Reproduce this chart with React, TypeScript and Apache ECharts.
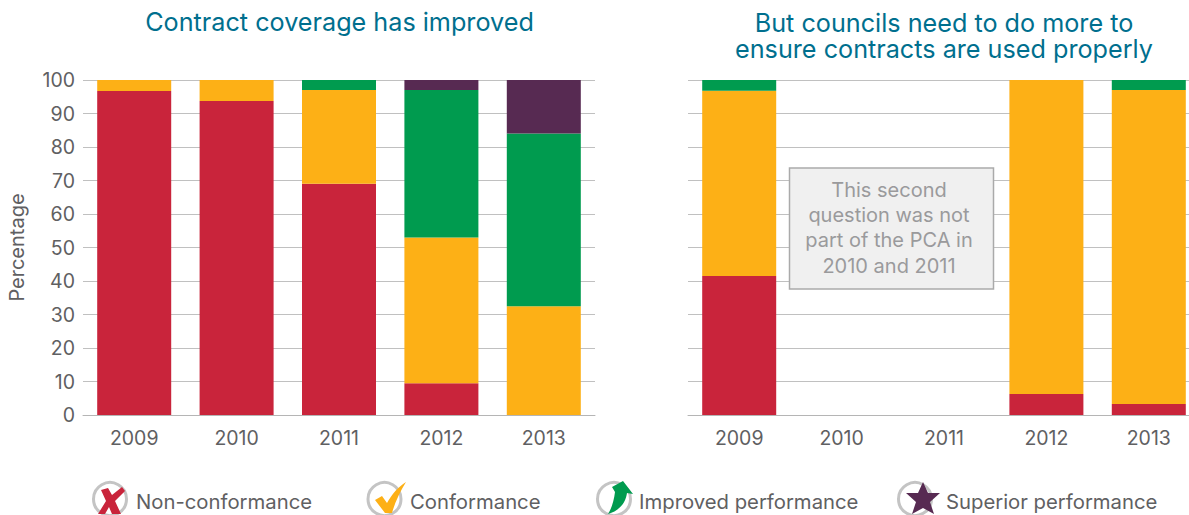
import React, { useEffect, useRef } from "react";
import * as echarts from "echarts";

const years = ["2009", "2010", "2011", "2012", "2013"];
const seriesNames = ["Non-conformance", "Conformance", "Improved performance", "Superior performance"];
const colors = ["#C9243B", "#FDB016", "#009B4F", "#572A52"];

const leftNon = [96.7, 93.7, 69, 9.5, 0];
const leftConf = [3.3, 6.3, 28, 43.5, 32.5];
const leftImp = [0, 0, 3, 44, 51.5];
const leftSup = [0, 0, 0, 3, 16];

const rightNon = [41.5, null, null, 6.3, 3.3];
const rightConf = [55.3, null, null, 93.7, 93.7];
const rightImp = [3.2, null, null, 0, 3];
const rightSup = [0, null, null, 0, 0];

const leftData = [leftNon, leftConf, leftImp, leftSup];
const rightData = [rightNon, rightConf, rightImp, rightSup];

const yTicks = { min: 0, max: 100, interval: 10 };
const noteLines = ["This second", "question was not", "part of the PCA in", "2010 and 2011"];
const FONT = "Inter, Roboto, sans-serif";
const TEXT = "#5f6062";
const TITLE = "#006F8E";

echarts.graphic.registerShape("iconX", echarts.graphic.extendPath("M4 3L11 1L15 8L25 0L28 4L18 14L24 27L15 27L12 20L8 27L1 27L9 14Z", {}));
echarts.graphic.registerShape("iconCheck", echarts.graphic.extendPath("M3 20L10 16L15 23C20 14 26 7 34 2C28 12 23 22 20 33L13 33Z", {}));
echarts.graphic.registerShape("iconArrow", echarts.graphic.extendPath("M3 34C7 28 9 20 10 12L7 7L18 1L28 14L22 13C21 20 17 30 3 34Z", {}));
echarts.graphic.registerShape("iconStar", echarts.graphic.extendPath("M17 1L22 12L34 12L24 21L28 33L17 27L6 33L10 21L0 12L12 12Z", {}));

function legendItem(i: number, cx: number, textX: number, shape: string, sx: number, sy: number) {
  return [
    { type: "circle", shape: { cx, cy: 499, r: 16.5 }, style: { fill: "none", stroke: "#c4c4c4", lineWidth: 3 } },
    { type: shape, x: sx, y: sy, style: { fill: colors[i] } },
    { type: "text", x: textX, y: 501, style: { text: seriesNames[i], fill: TEXT, font: `20.3px ${FONT}`, textVerticalAlign: "middle" } },
  ];
}

export default function App() {
  const ref = useRef<HTMLDivElement>(null);
  useEffect(() => {
    document.body.style.margin = "0";
    const chart = echarts.init(ref.current!, null, { renderer: "svg" });
    const makeSeries = (rows: any[][], idx: number) =>
      rows.map((data, i) => ({
        type: "bar",
        name: seriesNames[i],
        stack: "s" + idx,
        xAxisIndex: idx,
        yAxisIndex: idx,
        barWidth: 74,
        itemStyle: { color: colors[i] },
        data,
      }));
    const xAxis = (gridIndex: number) => ({
      type: "category",
      gridIndex,
      data: years,
      axisTick: { show: false },
      axisLine: { lineStyle: { color: "#b5b5b5", width: 1 } },
      axisLabel: { color: TEXT, fontSize: 19.5, fontFamily: FONT, margin: 13 },
    });
    const splitLine = { lineStyle: { color: "#c0c0c0", width: 1 } };
    chart.setOption({
      animation: false,
      grid: [
        { left: 83, top: 80, width: 512, height: 335, outerBoundsMode: "none" },
        { left: 688, top: 80, width: 512, height: 335, outerBoundsMode: "none" },
      ],
      xAxis: [xAxis(0), xAxis(1)],
      yAxis: [
        {
          type: "value",
          gridIndex: 0,
          ...yTicks,
          name: "Percentage",
          nameLocation: "middle",
          nameGap: 56,
          nameRotate: 90,
          nameTextStyle: { color: TEXT, fontSize: 20, fontFamily: FONT },
          axisLine: { show: false },
          axisTick: { show: false },
          axisLabel: { color: TEXT, fontSize: 19.5, fontFamily: FONT, margin: 8, padding: [3, 0, 0, 0] },
          splitLine,
        },
        {
          type: "value",
          gridIndex: 1,
          ...yTicks,
          axisLine: { show: false },
          axisTick: { show: false },
          axisLabel: { show: false },
          splitLine,
        },
      ],
      series: [...makeSeries(leftData, 0), ...makeSeries(rightData, 1)],
      graphic: [
        { type: "text", x: 339.5, y: 22, style: { text: "Contract coverage has improved", fill: TITLE, font: `25.2px ${FONT}`, textAlign: "center", textVerticalAlign: "middle" } },
        { type: "text", x: 944, y: 36, style: { text: "But councils need to do more to\nensure contracts are used properly", fill: TITLE, font: `25.2px ${FONT}`, lineHeight: 26, textAlign: "center", textVerticalAlign: "middle" } },
        { type: "rect", z: 10, shape: { x: 789.5, y: 168, width: 204, height: 121 }, style: { fill: "#f0f0f0", stroke: "#aaaaaa", lineWidth: 1.5 } },
        ...noteLines.map((t, i) => ({
          type: "text",
          z: 11,
          x: 889,
          y: 190 + i * 25.2,
          style: { text: t, fill: "#9a9a9c", font: `20px ${FONT}`, textAlign: "center", textVerticalAlign: "middle" },
        })),
        ...legendItem(0, 110, 136, "iconX", 97, 487),
        ...legendItem(1, 384.5, 410, "iconCheck", 372, 480),
        ...legendItem(2, 614, 639, "iconArrow", 605, 480),
        ...legendItem(3, 915, 946, "iconStar", 906, 481),
      ],
    });
    return () => chart.dispose();
  }, []);
  return <div ref={ref} style={{ width: 1189, height: 515 }} />;
}
